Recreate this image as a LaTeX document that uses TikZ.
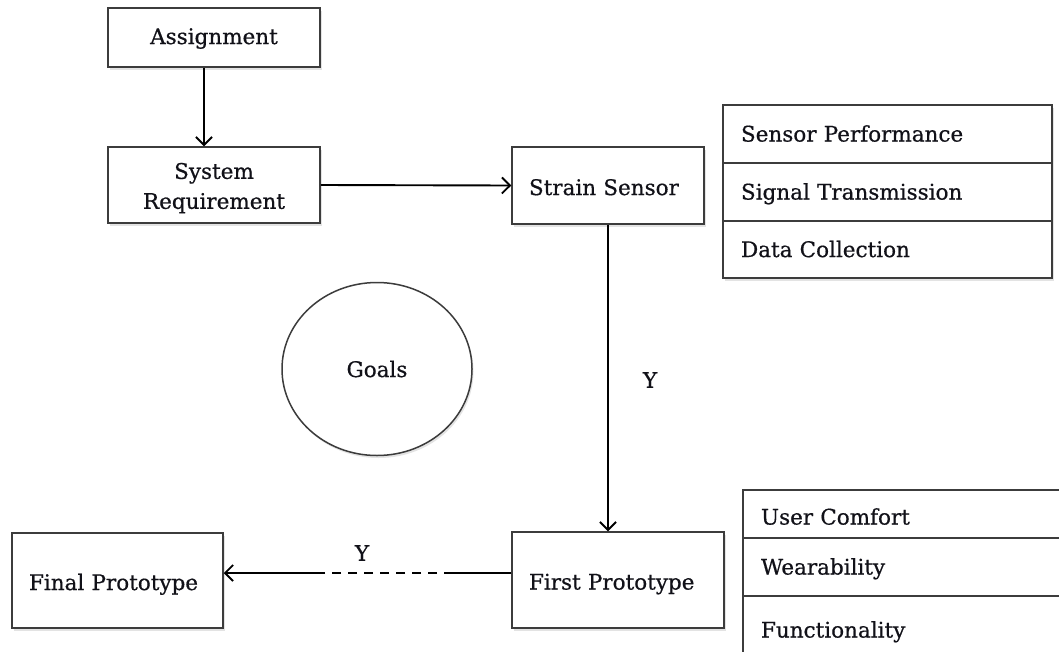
\documentclass[tikz,border=0pt]{standalone}
\usepackage{fontspec}
\setmainfont{DejaVu Serif}[FakeBold=0.6]
\usetikzlibrary{arrows.meta,shapes.geometric,shadows}
\definecolor{boxgrey}{HTML}{3C3C3C}
\definecolor{inkblack}{HTML}{111118}
\begin{document}
\begin{tikzpicture}[x=1pt,y=-1pt,
  font=\fontsize{21.5}{25}\selectfont,
  every node/.style={text=inkblack},
  shade/.style={drop shadow={opacity=0.22,shadow xshift=1.5pt,shadow yshift=-2.5pt}},
  box/.style={draw=boxgrey, line width=1.5pt, fill=white, rectangle,
    inner sep=0pt, text height=19.4pt, text depth=4.3pt},
  cbox/.style={box, shade, align=center},
  lbox/.style={box, shade, align=left, inner xsep=17pt, text height=23.4pt},
  row/.style={box, align=left, inner xsep=18pt},
  frame/.style={draw=boxgrey, line width=1.5pt, fill=white, rectangle, inner sep=0pt, shade},
  link/.style={draw=black, line width=1.9pt},
  tip/.style={link, -{Straight Barb[length=8pt,width=16pt]}},
  lbl/.style={inner sep=0pt}
]
\useasboundingbox (0,0) rectangle (1059,651);
\clip (0,0) rectangle (1059,651);
\fill[white] (0,0) rectangle (1059,651);

% main flow boxes
\node[cbox, minimum width=212pt, minimum height=59pt, text height=17.4pt] (assign) at (214,37.5) {Assignment};
\node[cbox, minimum width=212pt, minimum height=76pt, text height=52pt,
      font=\fontsize{21.5}{30}\selectfont] (sysreq) at (214,185) {System\\Requirement};
\node[lbox, text width=158pt, minimum height=77pt] (strain) at (608,185.5) {Strain Sensor};
\node[ellipse, draw=boxgrey, line width=1.5pt, fill=white, shade, inner sep=0pt,
      minimum width=190pt, minimum height=173pt] (goals) at (377,369) {Goals};
\node[lbox, text width=178pt, minimum height=96pt] (first) at (618,580) {First Prototype};
\node[lbox, text width=177pt, minimum height=95pt] (final) at (117.5,580.5) {Final Prototype};

% aspects of the strain sensor
\node[frame, minimum width=329pt, minimum height=173pt] (sensorframe) at (887.5,191.5) {};
\node[row, text width=293pt, minimum height=58pt] (perf) at (887.5,134) {Sensor Performance};
\node[row, text width=293pt, minimum height=58pt] (signal) at (887.5,192) {Signal Transmission};
\node[row, text width=293pt, minimum height=57pt] (data) at (887.5,249.5) {Data Collection};

% aspects of the first prototype
\node[frame, minimum width=357pt, minimum height=174pt] (protoframe) at (921.5,577) {};
\node[row, text width=321pt, minimum height=48pt, text height=25.4pt] (comfort) at (921.5,514) {User Comfort};
\node[row, text width=321pt, minimum height=58pt] (wear) at (921.5,567) {Wearability};
\node[row, text width=321pt, minimum height=68pt] (func) at (921.5,630) {Functionality};

% connectors
\draw[tip] ([xshift=-10pt]assign.south) -- ([xshift=-10pt]sysreq.north);
\draw[tip] (sysreq.east) -- (strain.west);
\draw[tip] (strain.south) -- (strain.south |- first.north);
\node[lbl] (ydown) at (650,380) {Y};

\coordinate (dashstart) at (453,573);
\coordinate (dashend) at (318,573);
\draw[link] (first.west |- dashstart) -- (dashstart);
\draw[link, line width=1.6pt, dash pattern=on 9pt off 7pt] (dashstart) -- (dashend);
\draw[tip] (dashend) -- (final.east |- dashend);
\node[lbl] (yleft) at (362,553) {Y};
\end{tikzpicture}
\end{document}
